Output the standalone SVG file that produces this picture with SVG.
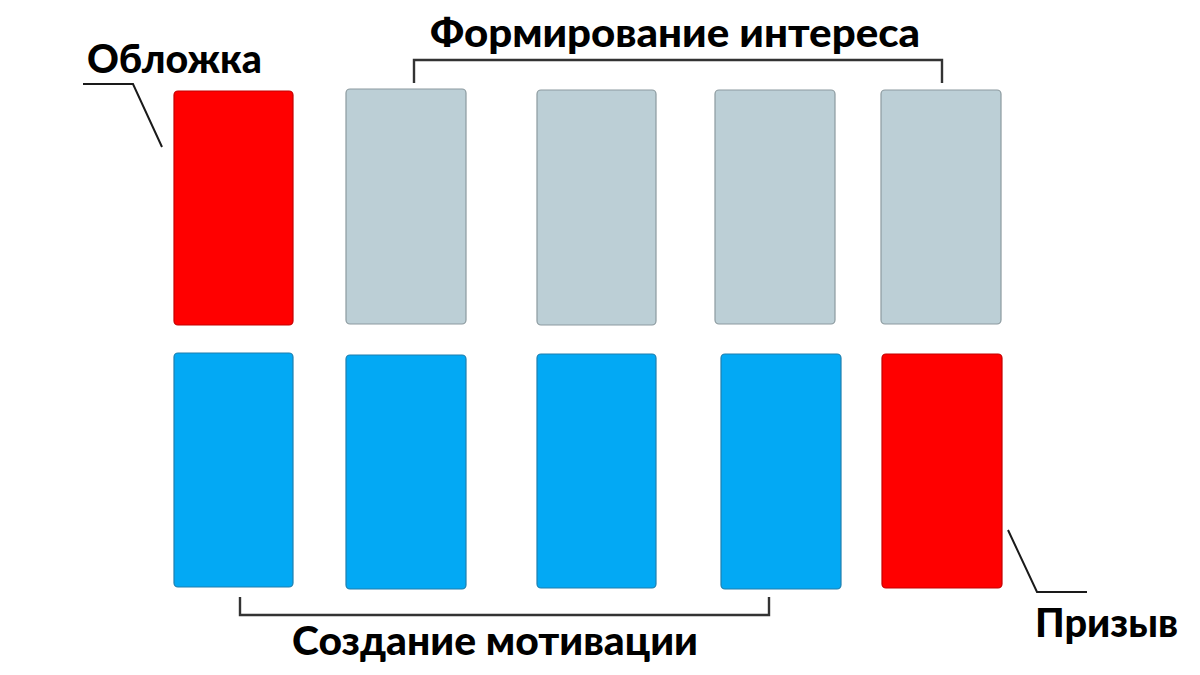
<svg xmlns="http://www.w3.org/2000/svg" width="1200" height="675" viewBox="0 0 1200 675">
<style>
.card{stroke-width:1.2}
.red{fill:#ff0000;stroke:#c40000}
.gray{fill:#bccfd6;stroke:#8c9a9f}
.blue{fill:#03a9f4;stroke:#1f7fae}
.lbl{font-family:Lato,"Noto Sans","DejaVu Sans",sans-serif;font-weight:900;font-size:40px;fill:#000}
.ln{fill:none;stroke:#1a1a1a;stroke-width:2}
.br{fill:none;stroke:#333;stroke-width:2.4}
</style>
<rect width="1200" height="675" fill="#fff"/>
<g id="top-1"><rect class="card red" x="174" y="91" width="119" height="234" rx="4"/></g>
<g id="top-2"><rect class="card gray" x="346" y="89" width="120" height="235" rx="4"/></g>
<g id="top-3"><rect class="card gray" x="537" y="90" width="119" height="235" rx="4"/></g>
<g id="top-4"><rect class="card gray" x="715" y="90" width="120" height="234" rx="4"/></g>
<g id="top-5"><rect class="card gray" x="881" y="90" width="120" height="234" rx="4"/></g>
<g id="bottom-1"><rect class="card blue" x="174" y="353" width="119" height="234" rx="4"/></g>
<g id="bottom-2"><rect class="card blue" x="346" y="355" width="120" height="234" rx="4"/></g>
<g id="bottom-3"><rect class="card blue" x="537" y="354" width="119" height="234" rx="4"/></g>
<g id="bottom-4"><rect class="card blue" x="721" y="354" width="120" height="235" rx="4"/></g>
<g id="bottom-5"><rect class="card red" x="882" y="354" width="120" height="234" rx="4"/></g>
<g id="connectors">
<polyline class="ln" points="83,84 133,84 162,147"/>
<polyline class="ln" points="1008,530 1037,592 1087,592"/>
<polyline class="br" points="414,83 414,60 942,60 942,83"/>
<polyline class="br" points="240,597 240,615 769,615 769,597"/>
</g>
<g id="label-oblozhka"><text class="lbl" x="87" y="73" textLength="175" lengthAdjust="spacingAndGlyphs">Обложка</text></g>
<g id="label-interes"><text class="lbl" x="430" y="47" textLength="490" lengthAdjust="spacingAndGlyphs">Формирование интереса</text></g>
<g id="label-motivacii"><text class="lbl" x="292" y="655" textLength="406" lengthAdjust="spacingAndGlyphs">Создание мотивации</text></g>
<g id="label-prizyv"><text class="lbl" x="1035" y="637" textLength="143" lengthAdjust="spacingAndGlyphs">Призыв</text></g>
</svg>
